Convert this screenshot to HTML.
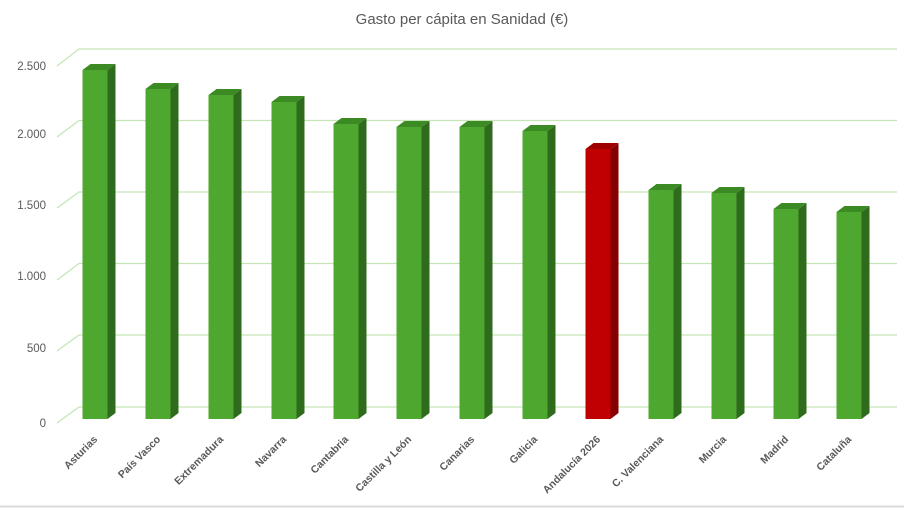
<!DOCTYPE html>
<html><head><meta charset="utf-8"><style>
html,body{margin:0;padding:0;background:#fff;}
svg{display:block;font-family:"Liberation Sans",Arial,sans-serif;}
</style></head><body>
<svg width="904" height="508" viewBox="0 0 904 508" xmlns="http://www.w3.org/2000/svg">
<rect width="904" height="508" fill="#fff"/>
<text x="462" y="24" text-anchor="middle" font-size="15" fill="#595959">Gasto per cápita en Sanidad (€)</text>
<g stroke="#c5e6b4" stroke-width="1.3" fill="none">
<polyline points="57,66 79,49 897,49"/>
<polyline points="57,137 79,120.5 897,120.5"/>
<polyline points="57,208 79,192 897,192"/>
<polyline points="57,280 79,263.5 897,263.5"/>
<polyline points="57,351 79,335 897,335"/>
<polyline points="57,423 79,407 897,407"/>
</g>
<g font-size="11.5" fill="#595959" text-anchor="end">
<text x="46" y="70">2.500</text>
<text x="46" y="138">2.000</text>
<text x="46" y="209">1.500</text>
<text x="46" y="280">1.000</text>
<text x="46" y="352">500</text>
<text x="46" y="427">0</text>
</g>

<g transform="translate(82.5,0)"><polygon points="25,70 33,64 33,413 25,419" fill="#2e6b1c"/><polygon points="0,70 8,64 33,64 25,70" fill="#3b8a24"/><rect x="0" y="70" width="25" height="349" fill="#4ea72e"/></g>
<g transform="translate(145.5,0)"><polygon points="25,89 33,83 33,413 25,419" fill="#2e6b1c"/><polygon points="0,89 8,83 33,83 25,89" fill="#3b8a24"/><rect x="0" y="89" width="25" height="330" fill="#4ea72e"/></g>
<g transform="translate(208.5,0)"><polygon points="25,95 33,89 33,413 25,419" fill="#2e6b1c"/><polygon points="0,95 8,89 33,89 25,95" fill="#3b8a24"/><rect x="0" y="95" width="25" height="324" fill="#4ea72e"/></g>
<g transform="translate(271.5,0)"><polygon points="25,102 33,96 33,413 25,419" fill="#2e6b1c"/><polygon points="0,102 8,96 33,96 25,102" fill="#3b8a24"/><rect x="0" y="102" width="25" height="317" fill="#4ea72e"/></g>
<g transform="translate(333.5,0)"><polygon points="25,124 33,118 33,413 25,419" fill="#2e6b1c"/><polygon points="0,124 8,118 33,118 25,124" fill="#3b8a24"/><rect x="0" y="124" width="25" height="295" fill="#4ea72e"/></g>
<g transform="translate(396.5,0)"><polygon points="25,127 33,121 33,413 25,419" fill="#2e6b1c"/><polygon points="0,127 8,121 33,121 25,127" fill="#3b8a24"/><rect x="0" y="127" width="25" height="292" fill="#4ea72e"/></g>
<g transform="translate(459.5,0)"><polygon points="25,127 33,121 33,413 25,419" fill="#2e6b1c"/><polygon points="0,127 8,121 33,121 25,127" fill="#3b8a24"/><rect x="0" y="127" width="25" height="292" fill="#4ea72e"/></g>
<g transform="translate(522.5,0)"><polygon points="25,131 33,125 33,413 25,419" fill="#2e6b1c"/><polygon points="0,131 8,125 33,125 25,131" fill="#3b8a24"/><rect x="0" y="131" width="25" height="288" fill="#4ea72e"/></g>
<g transform="translate(585.5,0)"><polygon points="25,149 33,143 33,413 25,419" fill="#850000"/><polygon points="0,149 8,143 33,143 25,149" fill="#9e0000"/><rect x="0" y="149" width="25" height="270" fill="#c00000"/></g>
<g transform="translate(648.5,0)"><polygon points="25,190 33,184 33,413 25,419" fill="#2e6b1c"/><polygon points="0,190 8,184 33,184 25,190" fill="#3b8a24"/><rect x="0" y="190" width="25" height="229" fill="#4ea72e"/></g>
<g transform="translate(711.5,0)"><polygon points="25,193 33,187 33,413 25,419" fill="#2e6b1c"/><polygon points="0,193 8,187 33,187 25,193" fill="#3b8a24"/><rect x="0" y="193" width="25" height="226" fill="#4ea72e"/></g>
<g transform="translate(773.5,0)"><polygon points="25,209 33,203 33,413 25,419" fill="#2e6b1c"/><polygon points="0,209 8,203 33,203 25,209" fill="#3b8a24"/><rect x="0" y="209" width="25" height="210" fill="#4ea72e"/></g>
<g transform="translate(836.5,0)"><polygon points="25,212 33,206 33,413 25,419" fill="#2e6b1c"/><polygon points="0,212 8,206 33,206 25,212" fill="#3b8a24"/><rect x="0" y="212" width="25" height="207" fill="#4ea72e"/></g>

<g font-size="10.5" font-weight="bold" fill="#595959" text-anchor="end">
<text transform="translate(98,440) rotate(-45)">Asturias</text>
<text transform="translate(161,440) rotate(-45)">País Vasco</text>
<text transform="translate(224,440) rotate(-45)">Extremadura</text>
<text transform="translate(287,440) rotate(-45)">Navarra</text>
<text transform="translate(349,440) rotate(-45)">Cantabria</text>
<text transform="translate(412,440) rotate(-45)">Castilla y León</text>
<text transform="translate(475,440) rotate(-45)">Canarias</text>
<text transform="translate(538,440) rotate(-45)">Galicia</text>
<text transform="translate(601,440) rotate(-45)">Andalucía 2026</text>
<text transform="translate(664,440) rotate(-45)">C. Valenciana</text>
<text transform="translate(727,440) rotate(-45)">Murcia</text>
<text transform="translate(789,440) rotate(-45)">Madrid</text>
<text transform="translate(852,440) rotate(-45)">Cataluña</text>
</g>
<line x1="0" y1="506.5" x2="904" y2="506.5" stroke="#d9d9d9" stroke-width="2"/>
</svg>
</body></html>
